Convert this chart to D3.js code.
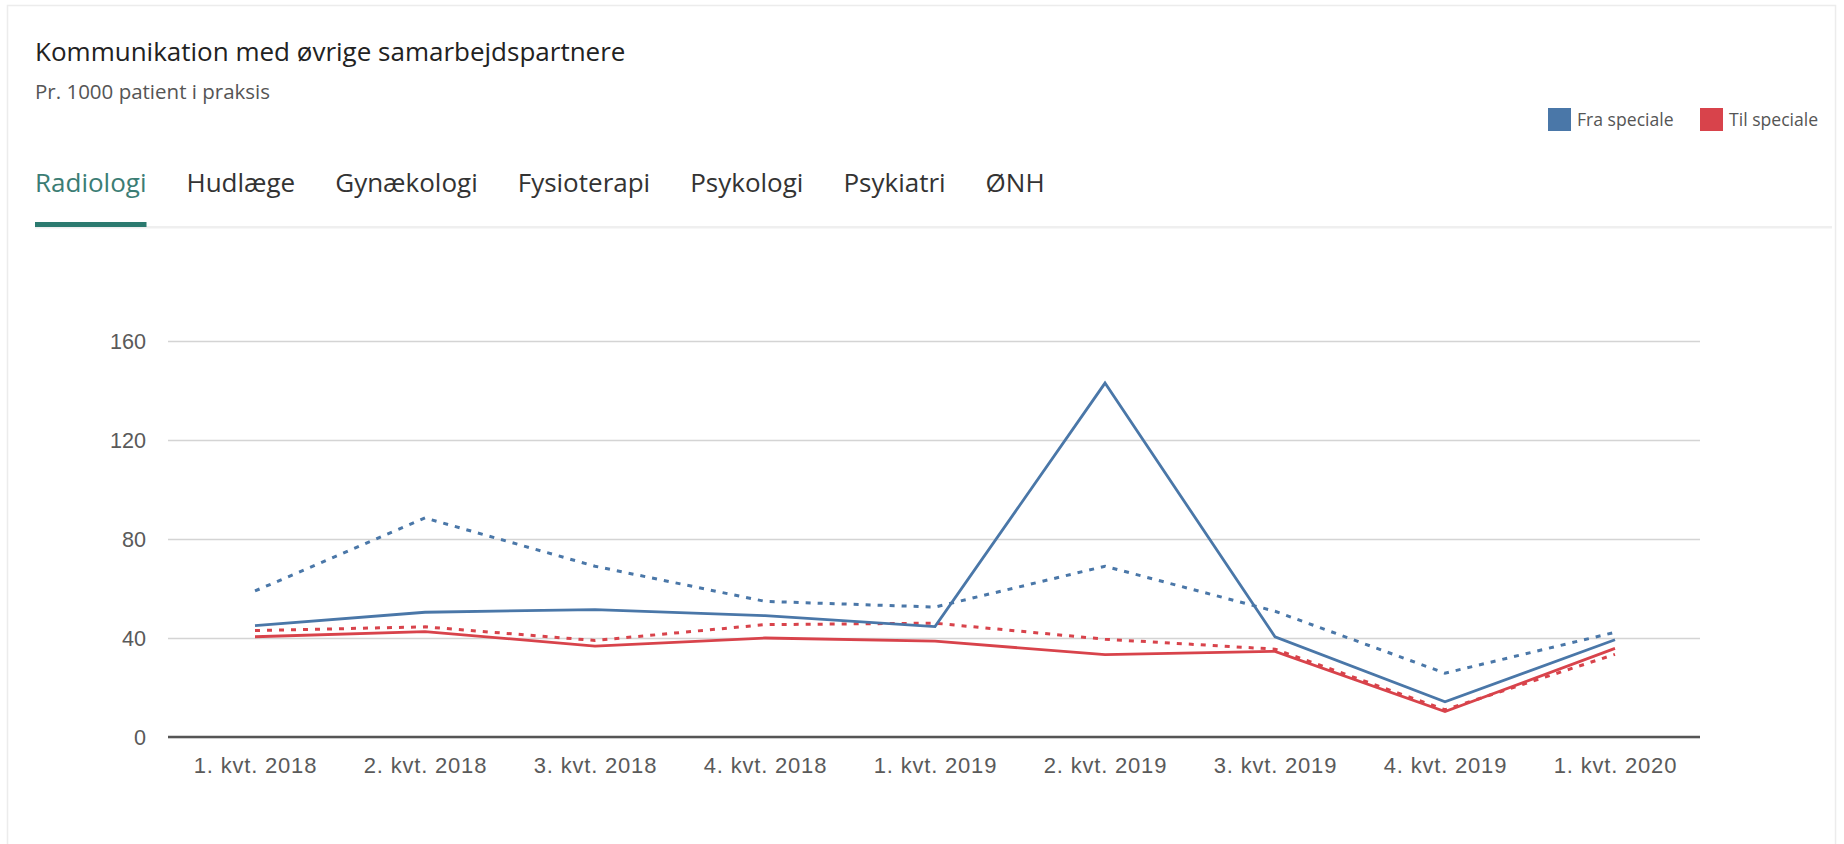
<!DOCTYPE html>
<html lang="da">
<head>
<meta charset="utf-8">
<title>Kommunikation med øvrige samarbejdspartnere</title>
<script src="https://cdn.jsdelivr.net/npm/d3@7/dist/d3.min.js"></script>
<style>
  html, body { margin: 0; padding: 0; background: #ffffff; }
  body { width: 1844px; height: 844px; overflow: hidden; }
  svg { display: block; }
  .title { font-family: "Open Sans", sans-serif; }
  .axis text { font-family: Arial, "Liberation Sans", sans-serif; font-size: 21.6px; fill: #5a5a5a; }
  .axis.x text { font-size: 22px; letter-spacing: 0.8px; }
</style>
</head>
<body>
<svg id="chart" width="1844" height="844"></svg>
<script>
// Quarters on the x axis
const categories = ["1. kvt. 2018", "2. kvt. 2018", "3. kvt. 2018", "4. kvt. 2018",
                    "1. kvt. 2019", "2. kvt. 2019", "3. kvt. 2019", "4. kvt. 2019", "1. kvt. 2020"];

// Practice values (solid lines), per 1000 patients
const fraSpeciale = [45, 50.4, 51.5, 49, 44.6, 143, 40.5, 14.2, 39.3];
const tilSpeciale = [40.5, 42.6, 36.7, 40, 38.7, 33.3, 34.6, 10.3, 35.8];

// Comparison values (dotted lines)
const fraSammenligning = [59, 88.5, 69, 54.8, 52.5, 69, 50.8, 25.8, 42.3];
const tilSammenligning = [43, 44.5, 39, 45.4, 46, 39.5, 35.5, 11, 33.4];

const yTicks = [0, 40, 80, 120, 160];

const tabs = ["Radiologi", "Hudlæge", "Gynækologi", "Fysioterapi", "Psykologi", "Psykiatri", "ØNH"];
const legendItems = ["Fra speciale", "Til speciale"];

const BLUE = "#4a77a8";
const RED = "#d8434b";

const svg = d3.select("#chart");

// Card frame
svg.append("rect")
  .attr("x", 7.5).attr("y", 5.5)
  .attr("width", 1828).attr("height", 842)
  .attr("fill", "#ffffff")
  .attr("stroke", "#ececec").attr("stroke-width", 1.5);

// Heading
svg.append("text").attr("class", "title")
  .attr("x", 35).attr("y", 61)
  .attr("font-size", 26).attr("fill", "#222222")
  .text("Kommunikation med øvrige samarbejdspartnere");

svg.append("text").attr("class", "title")
  .attr("x", 35).attr("y", 99)
  .attr("font-size", 20.5).attr("fill", "#555555")
  .text("Pr. 1000 patient i praksis");

// Legend
const legendColors = [BLUE, RED];
const legendX = [1548, 1700];
const legend = svg.append("g");
legendItems.forEach((name, i) => {
  legend.append("rect")
    .attr("x", legendX[i]).attr("y", 108)
    .attr("width", 23).attr("height", 23)
    .attr("fill", legendColors[i]);
  legend.append("text").attr("class", "title")
    .attr("x", legendX[i] + 29).attr("y", 126)
    .attr("font-size", 17.6).attr("fill", "#555555")
    .text(name);
});

// Tab bar
svg.append("rect")
  .attr("x", 35).attr("y", 226)
  .attr("width", 1797).attr("height", 2.5)
  .attr("fill", "#efefef");

const tabGroup = svg.append("g");
let tx = 35;
tabs.forEach((name, i) => {
  const t = tabGroup.append("text").attr("class", "title")
    .attr("x", tx).attr("y", 192)
    .attr("font-size", 26)
    .attr("fill", i === 0 ? "#3b7d74" : "#333333")
    .text(name);
  const w = t.node().getComputedTextLength();
  if (i === 0) {
    tabGroup.append("rect")
      .attr("x", tx).attr("y", 222)
      .attr("width", w).attr("height", 5)
      .attr("fill", "#2b7a6f");
  }
  tx += w + 40;
});

// Plot scales
const plotLeft = 168, plotRight = 1700;
const x = d3.scalePoint().domain(categories).range([170, 1700]).padding(0.5);
const y = d3.scaleLinear().domain([0, 160]).range([737, 341]);

// Gridlines and y labels
const yAxis = svg.append("g").attr("class", "axis y")
  .attr("transform", `translate(${plotLeft},0)`)
  .call(d3.axisLeft(y).tickValues(yTicks).tickSize(-(plotRight - plotLeft)).tickPadding(22).tickFormat(d3.format("d")));
yAxis.select(".domain").remove();
yAxis.selectAll(".tick line").attr("stroke", "#d4d4d4").attr("stroke-width", 1.5);
yAxis.selectAll(".tick text").attr("dy", "0.36em");

// Baseline at zero
svg.append("line")
  .attr("x1", plotLeft).attr("x2", plotRight)
  .attr("y1", y(0)).attr("y2", y(0))
  .attr("stroke", "#555555").attr("stroke-width", 2.5);

// X labels
const xAxis = svg.append("g").attr("class", "axis x")
  .attr("transform", `translate(0,${y(0)})`)
  .call(d3.axisBottom(x).tickSize(0));
xAxis.select(".domain").remove();
xAxis.selectAll(".tick text").attr("y", 36).attr("dy", null);

// Lines
const line = d3.line()
  .x((d, i) => x(categories[i]))
  .y(d => y(d));

const series = [
  { values: fraSammenligning, color: BLUE, dash: "5,7" },
  { values: tilSammenligning, color: RED, dash: "5,7" },
  { values: fraSpeciale, color: BLUE, dash: null },
  { values: tilSpeciale, color: RED, dash: null }
];

svg.append("g").selectAll("path")
  .data(series)
  .join("path")
  .attr("d", s => line(s.values))
  .attr("fill", "none")
  .attr("stroke", s => s.color)
  .attr("stroke-width", s => s.dash ? 3 : 2.8)
  .attr("stroke-dasharray", s => s.dash)
  .attr("stroke-linejoin", "miter");
</script>
</body>
</html>
